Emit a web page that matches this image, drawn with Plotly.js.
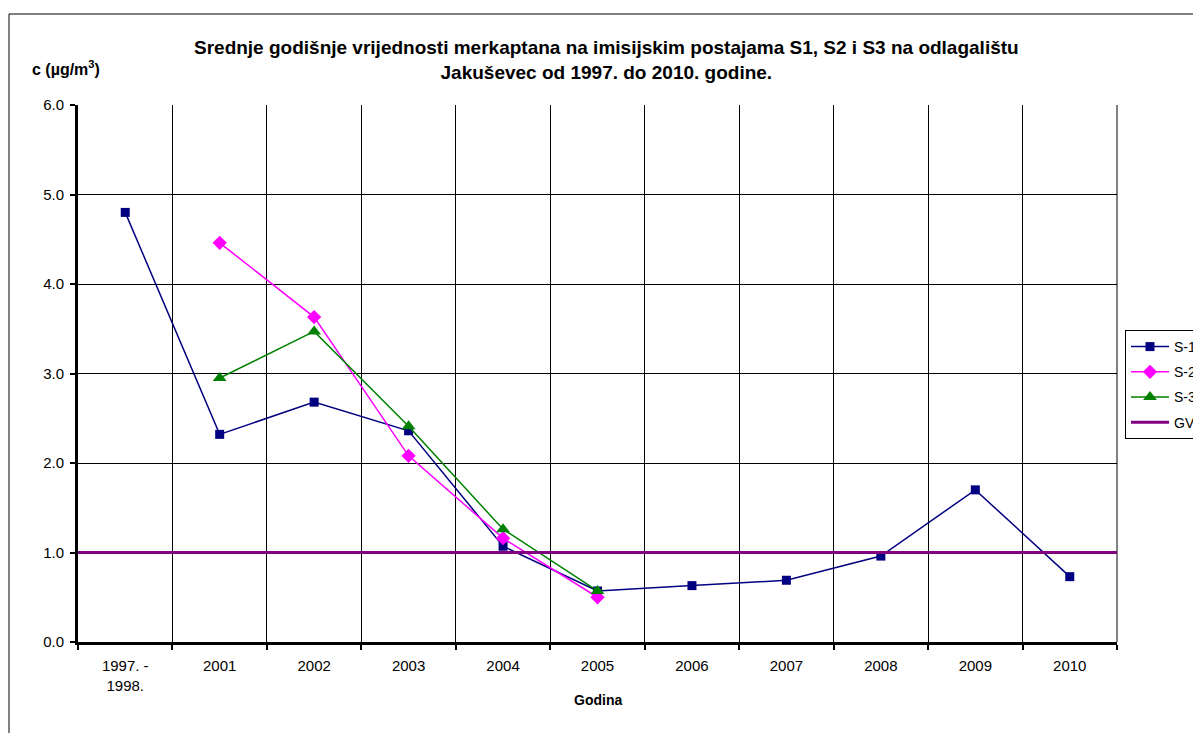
<!DOCTYPE html>
<html>
<head>
<meta charset="utf-8">
<script src="https://cdn.plot.ly/plotly-3.0.1.min.js"></script>
<style>html,body{margin:0;padding:0;background:#fff;}#chart{width:1193px;height:733px;}</style>
</head>
<body>
<div id="chart"></div>
<script>
// ---- data ----
const categories = ["1997. -<br>1998.", "2001", "2002", "2003", "2004", "2005", "2006", "2007", "2008", "2009", "2010"];
const s1 = [4.80, 2.32, 2.68, 2.36, 1.07, 0.57, 0.63, 0.69, 0.96, 1.70, 0.73];
const s2 = [null, 4.46, 3.63, 2.08, 1.16, 0.50, null, null, null, null, null];
const s3 = [null, 2.95, 3.47, 2.41, 1.26, 0.57, null, null, null, null, null];
const gvValue = 1.0;
const seriesNames = ["S-1", "S-2", "S-3", "GV"];
const titleLines = ["Srednje godišnje vrijednosti merkaptana na imisijskim postajama S1, S2 i S3 na odlagalištu",
                    "Jakuševec od 1997. do 2010. godine."];
const yTitle = "c (µg/m<sup>3</sup>)";
const xTitle = "Godina";

// ---- layout helpers (pixel -> paper) ----
const L = 78, R = 76, T = 105, B = 91, W = 1193, H = 733;
const pw = W - L - R, ph = H - T - B;
const px = x => (x - L) / pw;
const py = y => (H - B - y) / ph;
const FONT = "Liberation Sans, Arial, sans-serif";

const traces = [
  {x: categories, y: s1, name: seriesNames[0], type: "scatter", mode: "lines+markers",
   line: {color: "#000080", width: 1.5}, marker: {symbol: "square", size: 9, color: "#000080"},
   legendgroup: "a"},
  {x: categories, y: s2, name: seriesNames[1], type: "scatter", mode: "lines+markers",
   line: {color: "#FF00FF", width: 1.5}, marker: {symbol: "diamond", size: 11, color: "#FF00FF"},
   legendgroup: "b"},
  {x: categories, y: s3, name: seriesNames[2], type: "scatter", mode: "lines+markers",
   line: {color: "#008000", width: 1.5}, marker: {symbol: "triangle-up", size: 12, color: "#008000"},
   legendgroup: "c"},
  {x: [0, 1], y: [gvValue, gvValue], name: seriesNames[3], type: "scatter", mode: "lines",
   xaxis: "x2", line: {color: "#800080", width: 3}, legendgroup: "d"}
];

const layout = {
  width: W, height: H,
  margin: {l: L, r: R, t: T, b: B, pad: 0, autoexpand: false},
  paper_bgcolor: "#fff", plot_bgcolor: "#fff",
  font: {family: FONT, size: 15, color: "#000"},
  showlegend: true,
  legend: {x: px(1125), y: py(330), xanchor: "left", yanchor: "top",
           bordercolor: "#000", borderwidth: 1, bgcolor: "#fff",
           font: {family: FONT, size: 14, color: "#000"}, tracegroupgap: 4,
           itemwidth: 38, traceorder: "grouped"},
  xaxis: {type: "category", tickson: "boundaries", range: [-0.5, 10.5],
          showgrid: true, gridcolor: "#000", gridwidth: 1,
          showline: true, linecolor: "#000", linewidth: 3,
          ticks: "outside", ticklen: 5, tickwidth: 2, tickcolor: "#000",
          ticklabelstandoff: 8,
          tickfont: {family: FONT, size: 15}, zeroline: false, fixedrange: true},
  xaxis2: {overlaying: "x", range: [0, 1], visible: false, fixedrange: true},
  yaxis: {range: [0, 6], tick0: 0, dtick: 1, tickformat: ".1f",
          showgrid: true, gridcolor: "#000", gridwidth: 1,
          showline: true, linecolor: "#000", linewidth: 3,
          ticks: "outside", ticklen: 5, tickwidth: 2, tickcolor: "#000",
          ticklabelstandoff: 3,
          tickfont: {family: FONT, size: 15}, zeroline: false, fixedrange: true},
  annotations: [
    {text: titleLines.map(t => "<b>" + t + "</b>").join("<br>"), xref: "paper", yref: "paper",
     x: px(606), y: py(60), xanchor: "center", yanchor: "middle", showarrow: false,
     font: {family: FONT, size: 19, color: "#000"}, align: "center"},
    {text: "<b>" + yTitle + "</b>", xref: "paper", yref: "paper",
     x: px(66), y: py(68), xanchor: "center", yanchor: "middle", showarrow: false,
     font: {family: FONT, size: 16, color: "#000"}},
    {text: "<b>" + xTitle + "</b>", xref: "paper", yref: "paper",
     x: px(598), y: py(700), xanchor: "center", yanchor: "middle", showarrow: false,
     font: {family: FONT, size: 14, color: "#000"}}
  ],
  shapes: [
    {type: "rect", xref: "paper", yref: "paper", x0: px(9), x1: px(1250), y0: py(800), y1: py(14),
     line: {color: "#000", width: 1}, fillcolor: "rgba(0,0,0,0)", layer: "below"},
    {type: "line", xref: "paper", yref: "paper", x0: 1, x1: 1, y0: 0, y1: 1,
     line: {color: "#000", width: 1}, layer: "below"}
  ]
};

Plotly.newPlot("chart", traces, layout, {displayModeBar: false, staticPlot: true});
</script>
</body>
</html>
